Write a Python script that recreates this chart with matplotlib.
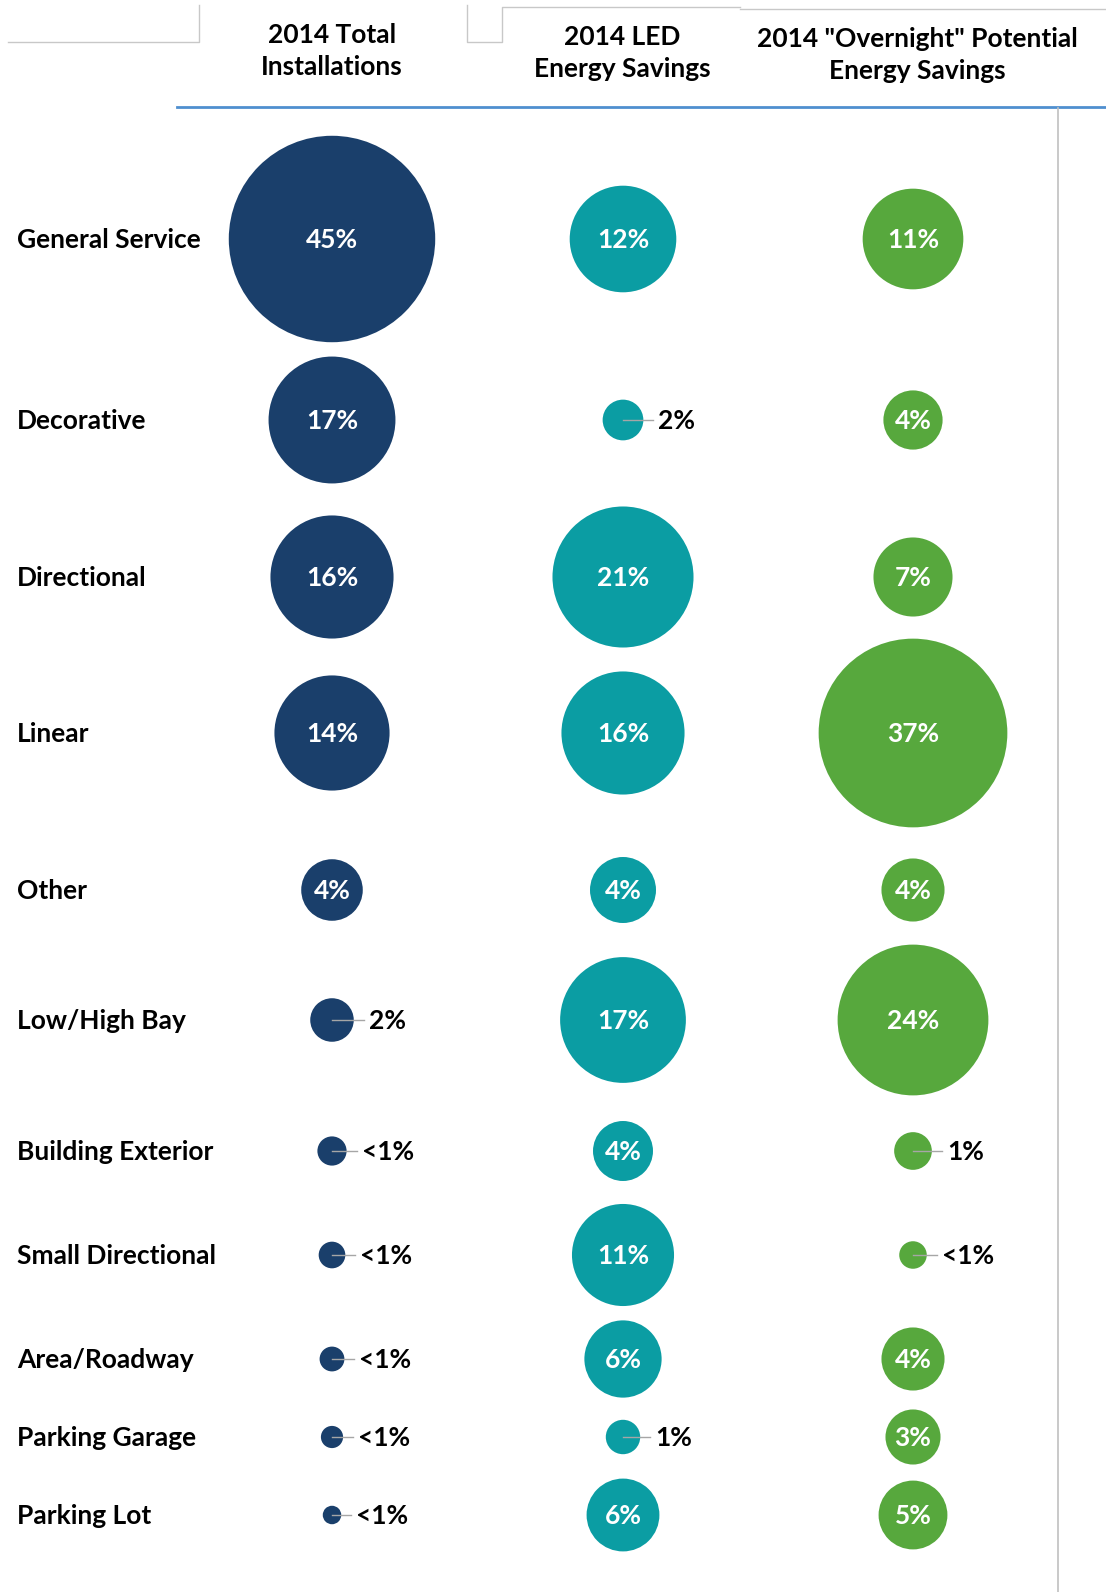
"""Bubble grid: lamp categories vs installations and energy savings (2014)."""
import numpy as np
import matplotlib.pyplot as plt

plt.rcParams['font.family'] = ['Lato', 'DejaVu Sans']

categories = ["General Service", "Decorative", "Directional", "Linear", "Other",
              "Low/High Bay", "Building Exterior", "Small Directional",
              "Area/Roadway", "Parking Garage", "Parking Lot"]
headers = ["2014 Total\nInstallations", "2014 LED\nEnergy Savings",
           "2014 \"Overnight\" Potential\nEnergy Savings"]

# shares in percent (bubble area)
total_vals = [45, 17, 16, 14, 4, 2, 0.9, 0.75, 0.65, 0.52, 0.36]
led_vals = [12, 1.75, 21, 16, 4.6, 16.7, 3.8, 11, 6.3, 1.25, 5.6]
overnight_vals = [10.7, 3.7, 6.6, 37.6, 4.2, 24, 1.5, 0.8, 4.2, 3.2, 5]

total_labels = ["45%", "17%", "16%", "14%", "4%", "2%", "<1%", "<1%", "<1%", "<1%", "<1%"]
led_labels = ["12%", "2%", "21%", "16%", "4%", "17%", "4%", "11%", "6%", "1%", "6%"]
overnight_labels = ["11%", "4%", "7%", "37%", "4%", "24%", "1%", "<1%", "4%", "3%", "5%"]

# layout (pixels)
W, H = 1106, 1592
col_x = [332, 623, 913]
row_y = [239, 420, 577, 733, 890, 1020, 1151, 1255, 1359, 1437, 1515]
colors = ["#1A3F6B", "#0B9DA3", "#57A83D"]
area_k = 491  # marker area in pt^2 per percent point
fs = 19

fig = plt.figure(figsize=(W / 100, H / 100), dpi=100)
ax = fig.add_axes([0, 0, 1, 1])
ax.set_xlim(0, W)
ax.set_ylim(H, 0)
ax.axis("off")

series = [(total_vals, total_labels), (led_vals, led_labels),
          (overnight_vals, overnight_labels)]

for j, (vals, labels) in enumerate(series):
    xs = np.full(len(vals), col_x[j])
    sizes = np.array(vals) * area_k
    ax.scatter(xs, row_y, s=sizes, color=colors[j], linewidths=0, zorder=2)
    for i, lab in enumerate(labels):
        r = np.sqrt(sizes[i]) / 2 * 100 / 72  # radius in px
        if r > 25:
            ax.text(col_x[j], row_y[i] + 1, lab, color="white", fontsize=fs,
                    fontweight="bold", ha="center", va="center", zorder=3)
        else:
            tx = col_x[j] + r + 15
            ax.plot([col_x[j], tx - 5], [row_y[i], row_y[i]], color="#A6A6A6",
                    lw=1, zorder=3)
            ax.text(tx, row_y[i] + 1, lab, color="black", fontsize=fs,
                    fontweight="bold", ha="left", va="center", zorder=3)

for i, cat in enumerate(categories):
    ax.text(17, row_y[i] + 1, cat, fontsize=fs, fontweight="bold", ha="left",
            va="center", color="black")

header_x = [332, 622, 917]
header_y = [51, 53, 55]
for j, h in enumerate(headers):
    ax.text(header_x[j], header_y[j], h, fontsize=fs, fontweight="bold",
            ha="center", va="center", color="black", linespacing=1.42)

# header frame lines
grey = "#C8C8C8"
ax.plot([8, 199, 199], [42, 42, 5], color=grey, lw=1)
ax.plot([467, 467, 502, 502, 740], [5, 42, 42, 7, 7], color=grey, lw=1)
ax.plot([740, W], [9, 9], color=grey, lw=1)
ax.plot([177, W], [107, 107], color="#4F8FCF", lw=2)
ax.plot([1058, 1058], [108, H], color="#C0C0C0", lw=1.2)

fig.savefig("out.png", dpi=100)
